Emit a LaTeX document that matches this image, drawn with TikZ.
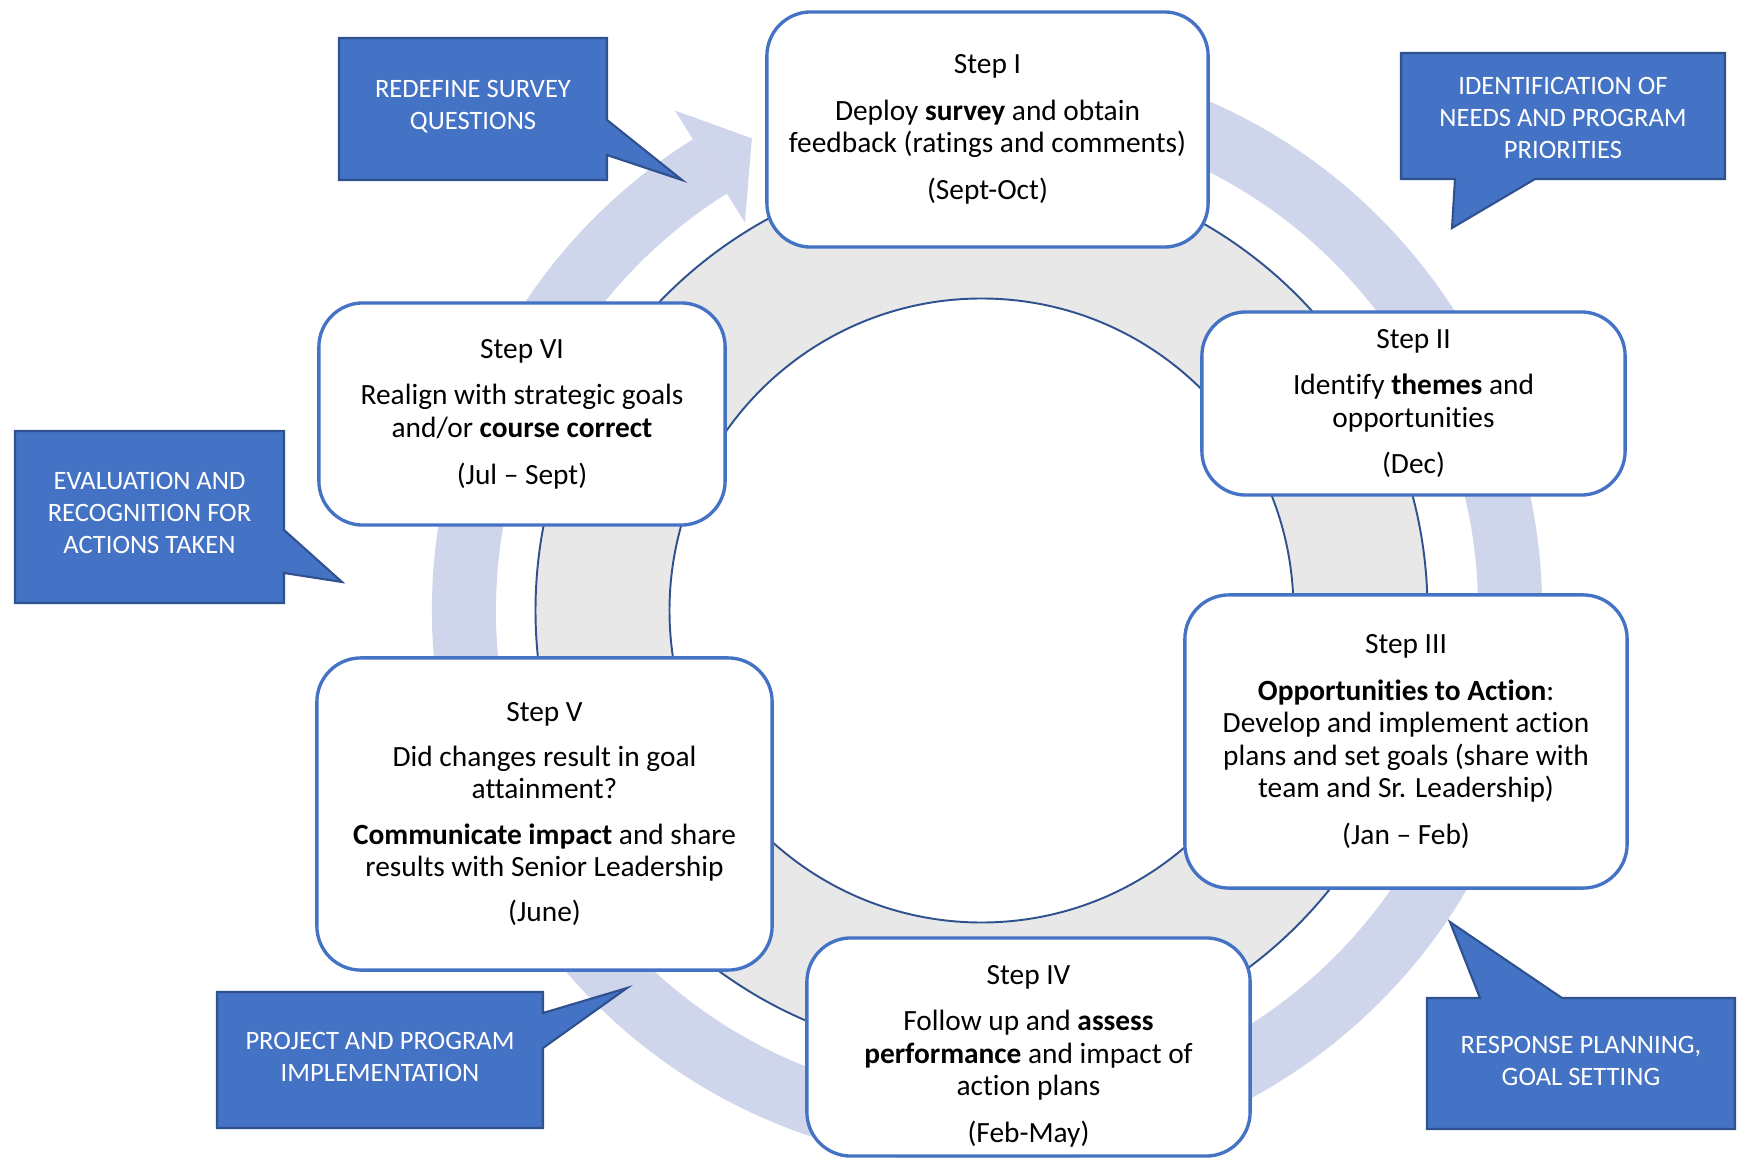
\documentclass[tikz,border=0pt]{standalone}
\usepackage{fontspec}
\setmainfont{Carlito}[Ligatures={TeX,NoCommon}]
\usetikzlibrary{calc}
\definecolor{boxblue}{HTML}{4472C4}
\definecolor{darkblue}{HTML}{2F528F}
\definecolor{bandblue}{HTML}{CFD5EA}
\definecolor{ringgray}{HTML}{E8E8E8}

\begin{document}
\begin{tikzpicture}[
  x=0.01cm, y=-0.01cm,
  stepbox/.style={draw=boxblue, line width=0.95pt, fill=white, rounded corners=0.44cm,
    align=center, inner sep=0pt, font=\fontsize{8.35pt}{9.25pt}\selectfont},
  callout/.style={fill=boxblue, draw=darkblue, line width=0.6pt},
  calltext/.style={text=white, align=center, font=\fontsize{7.55pt}{9.1pt}\selectfont},
  ring/.style={fill=ringgray, draw=darkblue, line width=0.55pt, even odd rule},
  band/.style={draw=bandblue, line width=0.64cm}
]
  \useasboundingbox (0,0) rectangle (1739,1158);
  \coordinate (c) at (987,610);
  \coordinate (hub) at (981.5,610.5);

  % circular arrow behind everything
  \draw[band] ($(c)+(280:523)$) arc[start angle=280, end angle=598, radius=523];
  \fill[bandblue] ($(c)+(238:589)$) -- ($(c)+(243.5:527)$) -- ($(c)+(238:457)$) -- cycle;

  % gray donut
  \path[ring] (hub) circle[radius=446] (hub) circle[radius=312];

  % the six steps
  \node[stepbox, minimum width=4.41cm, minimum height=2.35cm] (s1) at (987.5,129.5)
    {Step I\\[4pt] Deploy \textbf{survey} and obtain\\ feedback (ratings and comments)\\[4pt] (Sept-Oct)};
  \node[stepbox, minimum width=4.23cm, minimum height=1.83cm] (s2) at (1413.5,403.5)
    {Step II\\[4pt] Identify \textbf{themes} and\\ opportunities\\[4pt] (Dec)};
  \node[stepbox, minimum width=4.42cm, minimum height=2.93cm] (s3) at (1406,741.5)
    {Step III\\[4pt] \textbf{Opportunities to Action}:\\ Develop and implement action\\ plans and set goals (share with\\ team and Sr. Leadership)\\[4pt] (Jan -- Feb)};
  \node[stepbox, minimum width=4.43cm, minimum height=2.18cm] (s4) at (1028.5,1047)
    {\rule{0pt}{10.6pt}Step IV\\[4pt] Follow up and \textbf{assess}\\ \textbf{performance} and impact of\\ action plans\\[4pt] (Feb-May)};
  \node[stepbox, minimum width=4.55cm, minimum height=3.12cm] (s5) at (544.5,814)
    {Step V\\[3.6pt] Did changes result in goal\\ attainment?\\[3.6pt] \textbf{Communicate impact} and share\\ results with Senior Leadership\\[3.6pt] (June)};
  \node[stepbox, minimum width=4.06cm, minimum height=2.22cm] (s6) at (522,414)
    {Step VI\\[4pt] Realign with strategic goals\\ and/or \textbf{course correct}\\[4pt] (Jul -- Sept)};

  % callouts
  \draw[callout] (339,38) -- (607,38) -- (607,120) -- (682,180) -- (607,155) -- (607,180) -- (339,180) -- cycle;
  \node[calltext] (redefine) at (473,107) {REDEFINE SURVEY\\QUESTIONS};
  \draw[callout] (1401,53) -- (1725,53) -- (1725,179) -- (1535,179) -- (1452,228) -- (1455,179) -- (1401,179) -- cycle;
  \node[calltext] (needs) at (1563,118) {IDENTIFICATION OF\\NEEDS AND PROGRAM\\PRIORITIES};
  \draw[callout] (15,431) -- (284,431) -- (284,530) -- (342,582) -- (284,573) -- (284,603) -- (15,603) -- cycle;
  \node[calltext] (evaluation) at (149.5,513) {EVALUATION AND\\RECOGNITION FOR\\ACTIONS TAKEN};
  \draw[callout] (217,992) -- (543,992) -- (543,1013) -- (627,988) -- (543,1048) -- (543,1128) -- (217,1128) -- cycle;
  \node[calltext] (implement) at (380,1057) {PROJECT AND PROGRAM\\IMPLEMENTATION};
  \draw[callout] (1427,998) -- (1480,998) -- (1450,922) -- (1562,998) -- (1735,998) -- (1735,1129) -- (1427,1129) -- cycle;
  \node[calltext] (planning) at (1581,1061) {RESPONSE PLANNING,\\GOAL SETTING};
\end{tikzpicture}
\end{document}
